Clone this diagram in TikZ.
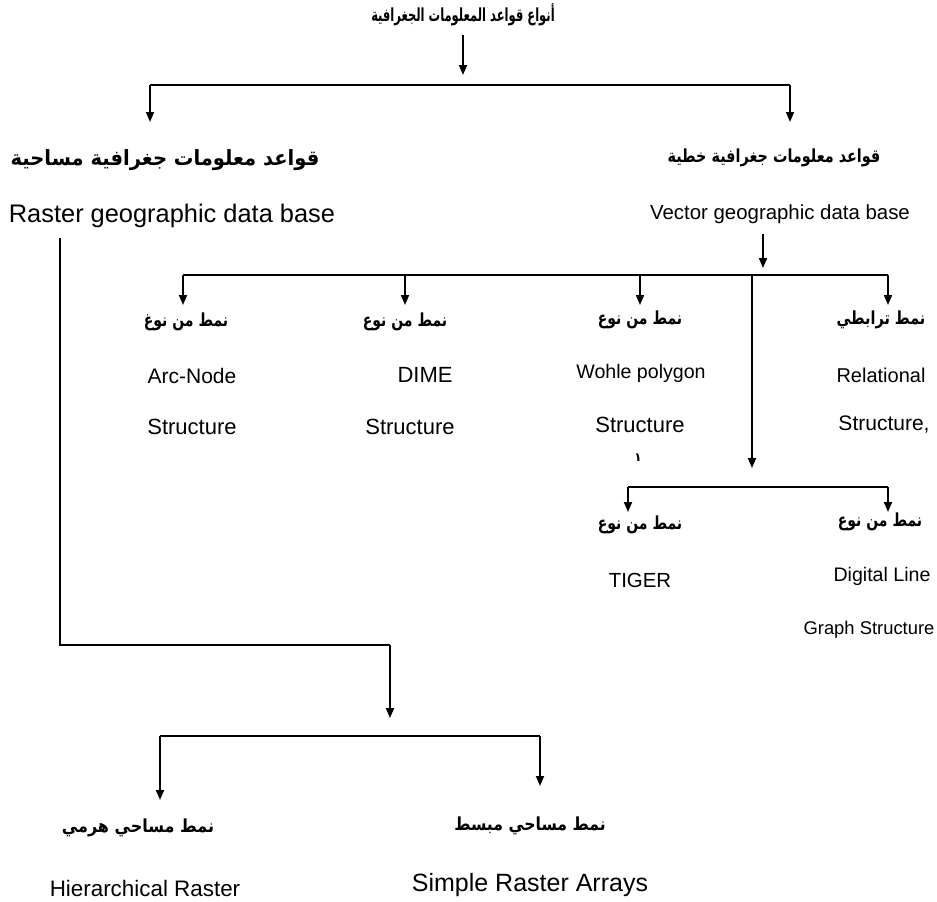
\documentclass[tikz,border=0pt]{standalone}
\usepackage{graphicx}
\usepackage{fontspec}
\setmainfont{Liberation Sans}
\newfontfamily\arabicfont[Script=Arabic]{DejaVu Sans}
\TeXXeTstate=1
\usetikzlibrary{arrows.meta}
% Arabic text, squeezed sideways by #1
\newcommand{\ar}[2][0.78]{\scalebox{#1}[1]{\arabicfont\bfseries\beginR #2\endR}}

\begin{document}
\begin{tikzpicture}[x=0.5pt,y=-0.5pt,
  arlbl/.style={inner sep=0pt,font=\fontsize{9}{11}\selectfont},
  enlbl/.style={inner sep=0pt,font=\fontsize{11}{13}\selectfont},
  arr/.style={line width=0.9pt,-{Triangle[length=5pt,width=4pt]}},
  bar/.style={line width=1pt}]
\useasboundingbox (0,0) rectangle (937,901);

% Top level
\node[arlbl] (types) at (463,15) {\ar[0.64]{أنواع قواعد المعلومات الجغرافية}};
\coordinate (topj) at (463,85);
\coordinate (topl) at (150,85);
\coordinate (topr) at (790,85);
\coordinate (tiptop) at (463,75);
\coordinate (tipl) at (150,122);
\coordinate (tipr) at (790,122);
\draw[arr,shorten <=4pt] (types.south -| topj) -- (tiptop);
\draw[bar] (topl) -- (topr);
\draw[arr] (topl) -- (tipl);
\draw[arr] (topr) -- (tipr);

% Raster and vector
\node[arlbl,font=\fontsize{10.5}{12}\selectfont] (rastar) at (165,160) {\ar[0.93]{قواعد معلومات جغرافية مساحية}};
\node[enlbl,font=\fontsize{12.7}{15}\selectfont] (raster) at (172,216) {Raster geographic data base};
\node[arlbl] (vecar) at (774,158) {\ar[0.8]{قواعد معلومات جغرافية خطية}};
\node[enlbl,font=\fontsize{10.2}{12}\selectfont] (vector) at (780,214) {Vector geographic data base};

% Vector branch
\coordinate (vecj) at (763,275);
\coordinate (vtip) at (763,268);
\draw[arr,shorten <=5pt] (vector.south -| vecj) -- (vtip);
\coordinate (vb1) at (183,275);
\coordinate (vb2) at (405,275);
\coordinate (vb3) at (640,275);
\coordinate (vb4) at (752,275);
\coordinate (vb5) at (888,275);
\draw[bar] (vb1) -- (vb5);
\foreach \c in {vb1,vb2,vb3,vb5}
  \draw[arr] (\c) -- ++(0,30);

\node[arlbl] (arcar) at (186,322) {\ar{نمط من نوغ}};
\node[enlbl,font=\fontsize{10.5}{13}\selectfont] (arc1) at (192,376) {Arc-Node};
\node[enlbl] (arc2) at (192,427) {Structure};
\node[arlbl] (dimear) at (405,322) {\ar{نمط من نوع}};
\node[enlbl] (dime1) at (425,375) {DIME};
\node[enlbl] (dime2) at (410,427) {Structure};
\node[arlbl] (wpar) at (640,320) {\ar{نمط من نوع}};
\node[enlbl,font=\fontsize{9.8}{12}\selectfont] (wp1) at (641,373) {Wohle polygon};
\node[enlbl] (wp2) at (640,425) {Structure};
\node[arlbl,font=\fontsize{6}{7}\selectfont] (wpmark) at (638,458) {\ar[1]{١}};
\node[arlbl] (relar) at (881,320) {\ar[0.8]{نمط ترابطي}};
\node[enlbl,font=\fontsize{10}{12}\selectfont] (rel1) at (881,375) {Relational};
\node[enlbl,font=\fontsize{10.5}{13}\selectfont] (rel2) at (884,425) {Structure,};

% TIGER and DLG
\coordinate (ltip) at (752,468);
\draw[arr] (vb4) -- (ltip);
\coordinate (tb1) at (628,487);
\coordinate (tb2) at (888,487);
\draw[bar] (tb1) -- (tb2);
\draw[arr] (tb1) -- ++(0,25);
\draw[arr] (tb2) -- ++(0,25);
\node[arlbl] (tigar) at (640,525) {\ar{نمط من نوع}};
\node[enlbl,font=\fontsize{10.2}{12}\selectfont] (tig1) at (640,580) {TIGER};
\node[arlbl] (dlgar) at (880,522) {\ar{نمط من نوع}};
\node[enlbl,font=\fontsize{9.8}{12}\selectfont] (dlg1) at (882,576) {Digital Line};
\node[enlbl,font=\fontsize{9.2}{11}\selectfont] (dlg2) at (869,630) {Graph Structure};

% Raster branch
\coordinate (rtop) at (60,238);
\coordinate (rcorner) at (60,645);
\coordinate (rj) at (390,645);
\coordinate (rtip) at (390,718);
\draw[bar] (rtop) -- (rcorner) -- (rj);
\draw[arr] (rj) -- (rtip);
\coordinate (rb1) at (160,736);
\coordinate (rb2) at (540,736);
\draw[bar] (rb1) -- (rb2);
\draw[arr] (rb1) -- ++(0,64);
\draw[arr] (rb2) -- ++(0,50);
\node[arlbl] (hierar) at (138,828) {\ar[0.89]{نمط مساحي هرمي}};
\node[enlbl,font=\fontsize{11.2}{13}\selectfont] (hier) at (145,888) {Hierarchical Raster};
\node[arlbl] (simpar) at (530,826) {\ar[0.87]{نمط مساحي مبسط}};
\node[enlbl,font=\fontsize{12.5}{15}\selectfont] (simp) at (530,885) {Simple Raster Arrays};
\end{tikzpicture}
\end{document}
